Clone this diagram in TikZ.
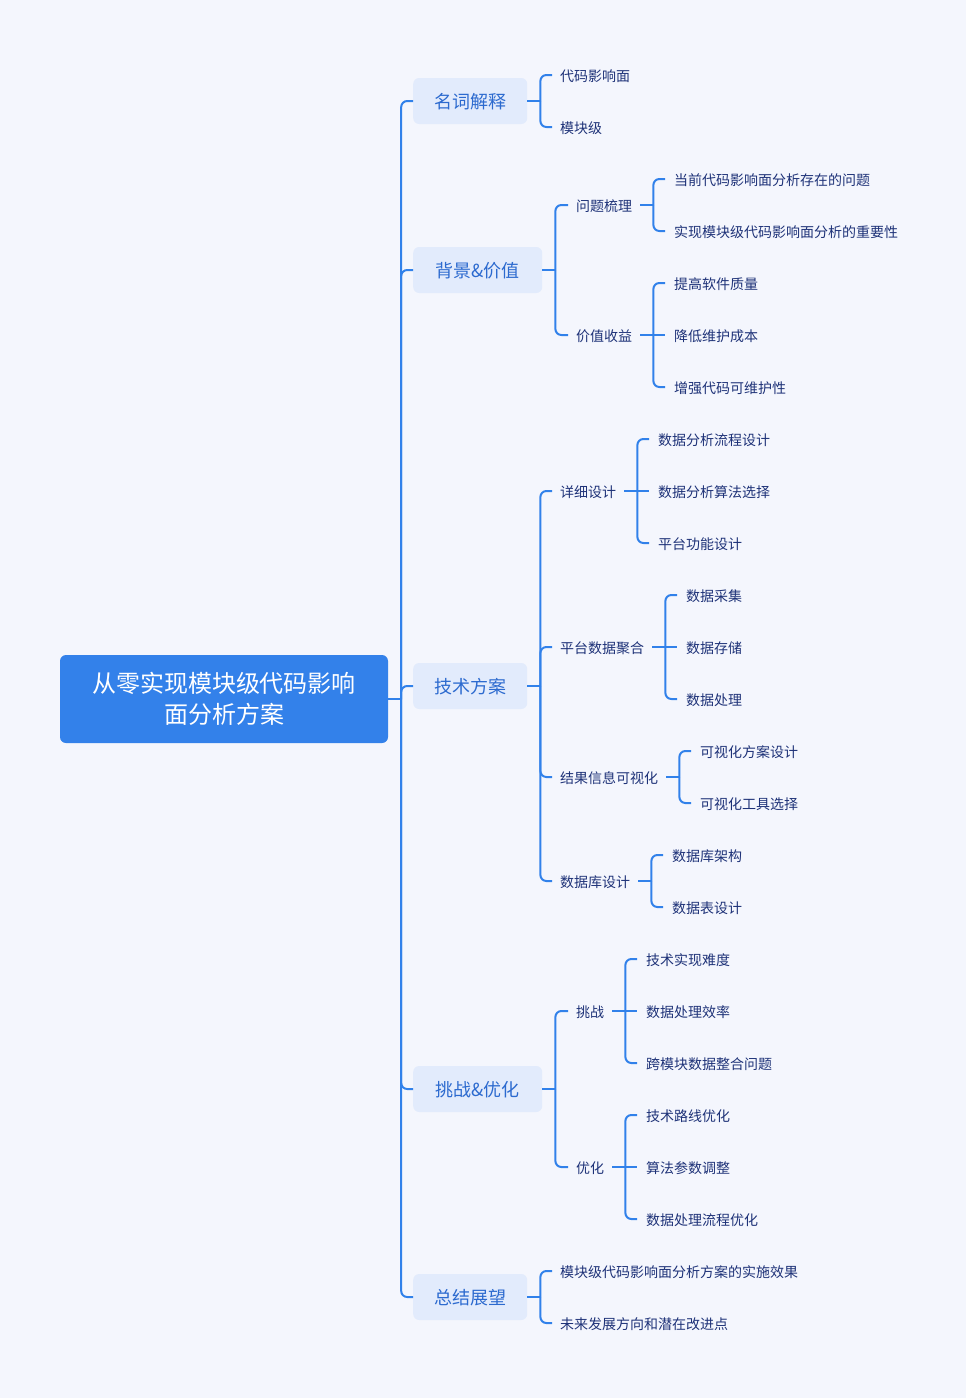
\documentclass[tikz,border=0pt]{standalone}
\usepackage{fontspec}
\newfontfamily\cjk{Noto Sans CJK SC}
\usetikzlibrary{calc}
\definecolor{bg}{HTML}{F4F6FD}
\definecolor{rootfill}{HTML}{3381EA}
\definecolor{linec}{HTML}{3181EA}
\definecolor{boxfill}{HTML}{E2EBFC}
\definecolor{boxtext}{HTML}{2C6ACF}
\definecolor{leaftext}{HTML}{1E3278}
\tikzset{
  rootbox/.style={fill=rootfill, rounded corners=6pt, minimum width=328pt, minimum height=88pt,
    text=white, align=center, inner sep=0pt, font=\cjk\fontsize{24}{31}\selectfont},
  topic/.style={fill=boxfill, rounded corners=6pt, minimum height=46pt, anchor=west, inner sep=0pt,
    text=boxtext, font=\cjk\fontsize{18}{22}\selectfont, text height=1.52em, text depth=0.12em},
  leaf/.style={anchor=west, inner sep=0pt, text=leaftext, font=\cjk\fontsize{14}{17}\selectfont,
    text height=1.45em, text depth=0.12em},
  conn/.style={draw=linec, line width=2pt, rounded corners=6pt},
}
% branch from a boxed parent: vertical line 13pt right of box
\newcommand\bbr[2]{\draw[conn] ($(#1.east)+(13pt,0)$) |- ([xshift=-8pt]#2.west);}
\newcommand\bstub[1]{\draw[conn] (#1.east) -- ++(13pt,0);}
% branch from a text parent: line starts 8pt after text, vertical 21pt after text
\newcommand\tbr[2]{\draw[conn] ($(#1.east)+(21pt,0)$) |- ([xshift=-9pt]#2.west);}
\newcommand\tmid[2]{\draw[conn] ([xshift=8pt]#1.east) -- ([xshift=-9pt]#2.west);}
\newcommand\tstub[1]{\draw[conn] ([xshift=8pt]#1.east) -- ++(13pt,0);}
\begin{document}
\begin{tikzpicture}[x=1pt,y=-1pt]
\fill[bg] (0,0) rectangle (966,1398);
\useasboundingbox (0,0) rectangle (966,1398);

\node[rootbox] (root) at (224,699) {从零实现模块级代码影响\\面分析方案};

\node[topic, minimum width=114pt] (n1) at (413,101) {名词解释};
\node[topic, minimum width=129pt] (n2) at (413,270) {背景\&价值};
\node[topic, minimum width=114pt] (n3) at (413,686) {技术方案};
\node[topic, minimum width=129pt] (n4) at (413,1089) {挑战\&优化};
\node[topic, minimum width=114pt] (n5) at (413,1297) {总结展望};

% level 2 / 3
\node[leaf] (a1) at (560,75) {代码影响面};
\node[leaf] (a2) at (560,127) {模块级};

\node[leaf] (b1) at (576,205) {问题梳理};
\node[leaf] (b2) at (576,335) {价值收益};
\node[leaf] (b11) at (674,179) {当前代码影响面分析存在的问题};
\node[leaf] (b12) at (674,231) {实现模块级代码影响面分析的重要性};
\node[leaf] (b21) at (674,283) {提高软件质量};
\node[leaf] (b22) at (674,335) {降低维护成本};
\node[leaf] (b23) at (674,387) {增强代码可维护性};

\node[leaf] (c1) at (560,491) {详细设计};
\node[leaf] (c2) at (560,647) {平台数据聚合};
\node[leaf] (c3) at (560,777) {结果信息可视化};
\node[leaf] (c4) at (560,881) {数据库设计};
\node[leaf] (c11) at (658,439) {数据分析流程设计};
\node[leaf] (c12) at (658,491) {数据分析算法选择};
\node[leaf] (c13) at (658,543) {平台功能设计};
\node[leaf] (c21) at (686,595) {数据采集};
\node[leaf] (c22) at (686,647) {数据存储};
\node[leaf] (c23) at (686,699) {数据处理};
\node[leaf] (c31) at (700,751) {可视化方案设计};
\node[leaf] (c32) at (700,803) {可视化工具选择};
\node[leaf] (c41) at (672,855) {数据库架构};
\node[leaf] (c42) at (672,907) {数据表设计};

\node[leaf] (d1) at (576,1011) {挑战};
\node[leaf] (d2) at (576,1167) {优化};
\node[leaf] (d11) at (646,959) {技术实现难度};
\node[leaf] (d12) at (646,1011) {数据处理效率};
\node[leaf] (d13) at (646,1063) {跨模块数据整合问题};
\node[leaf] (d21) at (646,1115) {技术路线优化};
\node[leaf] (d22) at (646,1167) {算法参数调整};
\node[leaf] (d23) at (646,1219) {数据处理流程优化};

\node[leaf] (e1) at (560,1271) {模块级代码影响面分析方案的实施效果};
\node[leaf] (e2) at (560,1323) {未来发展方向和潜在改进点};

% root to topics
\draw[conn] (root.east) -- ++(13pt,0);
\draw[conn] ($(root.east)+(13pt,0)$) |- (n1.west);
\draw[conn] ($(root.east)+(13pt,0)$) |- (n2.west);
\draw[conn] ($(root.east)+(13pt,0)$) |- (n3.west);
\draw[conn] ($(root.east)+(13pt,0)$) |- (n4.west);
\draw[conn] ($(root.east)+(13pt,0)$) |- (n5.west);

% topics to level 2
\bstub{n1} \bbr{n1}{a1} \bbr{n1}{a2}
\bstub{n2} \bbr{n2}{b1} \bbr{n2}{b2}
\bstub{n3} \bbr{n3}{c1} \bbr{n3}{c2} \bbr{n3}{c3} \bbr{n3}{c4}
\bstub{n4} \bbr{n4}{d1} \bbr{n4}{d2}
\bstub{n5} \bbr{n5}{e1} \bbr{n5}{e2}

% level 2 to level 3
\tstub{b1} \tbr{b1}{b11} \tbr{b1}{b12}
\tmid{b2}{b22} \tbr{b2}{b21} \tbr{b2}{b23}
\tmid{c1}{c12} \tbr{c1}{c11} \tbr{c1}{c13}
\tmid{c2}{c22} \tbr{c2}{c21} \tbr{c2}{c23}
\tstub{c3} \tbr{c3}{c31} \tbr{c3}{c32}
\tstub{c4} \tbr{c4}{c41} \tbr{c4}{c42}
\tmid{d1}{d12} \tbr{d1}{d11} \tbr{d1}{d13}
\tmid{d2}{d22} \tbr{d2}{d21} \tbr{d2}{d23}
\end{tikzpicture}
\end{document}
